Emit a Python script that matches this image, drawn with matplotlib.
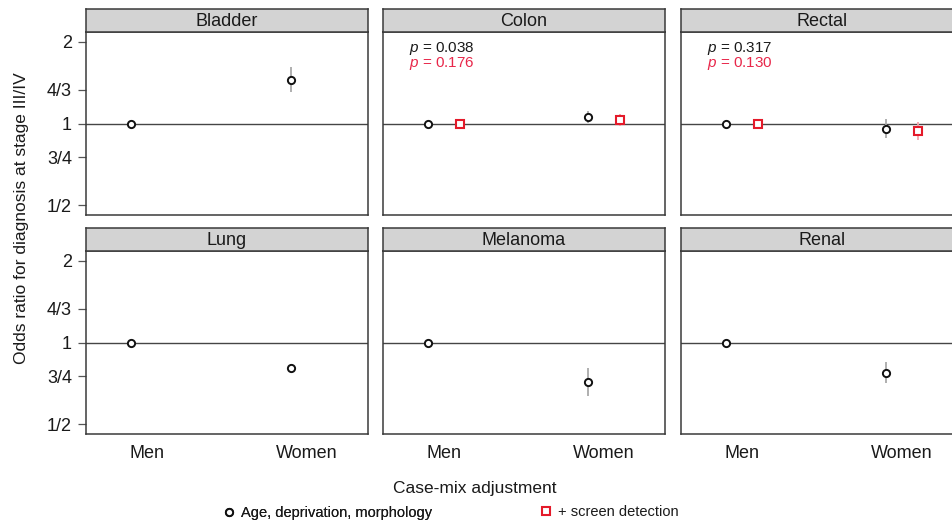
import matplotlib
matplotlib.use("Agg")
import matplotlib.pyplot as plt
from matplotlib.ticker import FixedLocator, FixedFormatter, NullLocator

plt.rcParams['font.family'] = ['Liberation Sans', 'DejaVu Sans']
plt.rcParams['mathtext.fontset'] = 'custom'
plt.rcParams['mathtext.rm'] = 'Liberation Sans'
plt.rcParams['mathtext.it'] = 'Liberation Sans:italic'

# ---------------- data ----------------
cancers = ['Bladder', 'Colon', 'Rectal', 'Lung', 'Melanoma', 'Renal']
sexes = ['Men', 'Women']

# Age, deprivation, morphology (men = reference 1)
base_men = [1.0, 1.0, 1.0, 1.0, 1.0, 1.0]
base_women = [1.448, 1.053, 0.955, 0.803, 0.717, 0.774]
base_women_lo = [1.307, 1.006, 0.887, 0.776, 0.636, 0.710]
base_women_hi = [1.610, 1.110, 1.035, 0.830, 0.807, 0.848]

# + screen detection (only colon and rectal)
screen_cancers = ['Colon', 'Rectal']
screen_men = [1.0, 1.0]
screen_women = [1.032, 0.937]
screen_women_lo = [0.983, 0.867]
screen_women_hi = [1.086, 1.011]

p_base = {'Colon': '0.038', 'Rectal': '0.317'}
p_screen = {'Colon': '0.176', 'Rectal': '0.130'}

yticks = [0.5, 0.75, 1.0, 4 / 3, 2.0]
yticklabels = ['1/2', '3/4', '1', '4/3', '2']

# ---------------- style ----------------
W, H = 952, 523
TXT = '#1a1a1a'
RED = '#e41a2a'
RED_TXT = '#e8274a'
RED_CI = '#f4a3ab'
GREY_CI = '#a9a9a9'
EDGE = '#3a3a3a'

fig = plt.figure(figsize=(W / 100, H / 100), dpi=100)
fig.patch.set_facecolor('white')

col_left = [86, 383, 681]
panel_w = 282
row_top = [32, 251]
panel_h = 183
strip_h = 23

dodge = 0.1
xcat = [1, 2]

h_base = None
h_screen = None

for i, cancer in enumerate(cancers):
    r, c = divmod(i, 3)
    x0 = col_left[c]
    y0 = row_top[r]
    ax = fig.add_axes([x0 / W, 1 - (y0 + panel_h) / H, panel_w / W, panel_h / H])
    sax = fig.add_axes([x0 / W, 1 - y0 / H, panel_w / W, strip_h / H])

    # strip
    sax.set_facecolor('#d3d3d3')
    sax.set_xticks([]); sax.set_yticks([])
    for s in sax.spines.values():
        s.set_color(EDGE); s.set_linewidth(1.1)
    sax.text(0.5, 0.47, cancer, ha='center', va='center', fontsize=13,
             color=TXT, transform=sax.transAxes)

    ax.set_yscale('log')
    ax.set_ylim(1 / 2.175, 2.175)
    ax.set_xlim(0.62, 2.38)
    ax.axhline(1.0, color='#454545', lw=1.0, zorder=1)

    # base series
    xs = [xcat[0] - dodge, xcat[1] - dodge]
    ax.plot([xs[1], xs[1]], [base_women_lo[i], base_women_hi[i]],
            color=GREY_CI, lw=1.3, zorder=2, solid_capstyle='butt')
    hb, = ax.plot(xs, [base_men[i], base_women[i]], ls='none', marker='o',
                  ms=5.2, mew=1.4, mfc='white', mec='#111111', zorder=3,
                  label='Age, deprivation, morphology')
    h_base = hb

    if cancer in screen_cancers:
        j = screen_cancers.index(cancer)
        xs2 = [xcat[0] + dodge, xcat[1] + dodge]
        ax.plot([xs2[1], xs2[1]], [screen_women_lo[j], screen_women_hi[j]],
                color=RED_CI, lw=1.3, zorder=2, solid_capstyle='butt')
        hs, = ax.plot(xs2, [screen_men[j], screen_women[j]], ls='none',
                      marker='s', ms=5.2, mew=1.5, mfc='white', mec=RED,
                      zorder=3, label='+ screen detection')
        h_screen = hs
        ax.text(0.092, 0.912, r'$p$ = ' + p_base[cancer], transform=ax.transAxes,
                ha='left', va='center', fontsize=11, color=TXT)
        ax.text(0.092, 0.827, r'$p$ = ' + p_screen[cancer], transform=ax.transAxes,
                ha='left', va='center', fontsize=11, color=RED_TXT)

    for s in ax.spines.values():
        s.set_color(EDGE); s.set_linewidth(1.1)

    ax.yaxis.set_major_locator(FixedLocator(yticks))
    ax.yaxis.set_major_formatter(FixedFormatter(yticklabels))
    ax.yaxis.set_minor_locator(NullLocator())
    ax.set_xticks(xcat)
    ax.set_xticklabels(sexes)
    ax.tick_params(axis='y', length=6, width=0.9, color='#555555', pad=4,
                   labelsize=13, labelcolor=TXT)
    ax.tick_params(axis='x', length=0, pad=8, labelsize=13, labelcolor=TXT)
    if c != 0:
        ax.tick_params(axis='y', left=False, labelleft=False)
    if r == 0:
        ax.tick_params(axis='x', labelbottom=False)

fig.text(22 / W, 1 - 218 / H, 'Odds ratio for diagnosis at stage III/IV',
         rotation=90, ha='center', va='center', fontsize=12.5, color=TXT)
fig.text(475 / W, 1 - 488 / H, 'Case-mix adjustment', ha='center', va='center',
         fontsize=12.5, color=TXT)

leg_kw = dict(frameon=False, fontsize=10.5, borderpad=0, borderaxespad=0,
              handlelength=1.0, handletextpad=0.3, loc='center left',
              labelcolor=TXT)
l1 = fig.legend(handles=[h_base], bbox_to_anchor=(222 / W, 1 - 513 / H), **leg_kw)
fig.add_artist(l1)
l2 = fig.legend(handles=[h_screen], bbox_to_anchor=(539 / W, 1 - 512 / H), **leg_kw)

fig.savefig('out.png', dpi=100, facecolor='white')
